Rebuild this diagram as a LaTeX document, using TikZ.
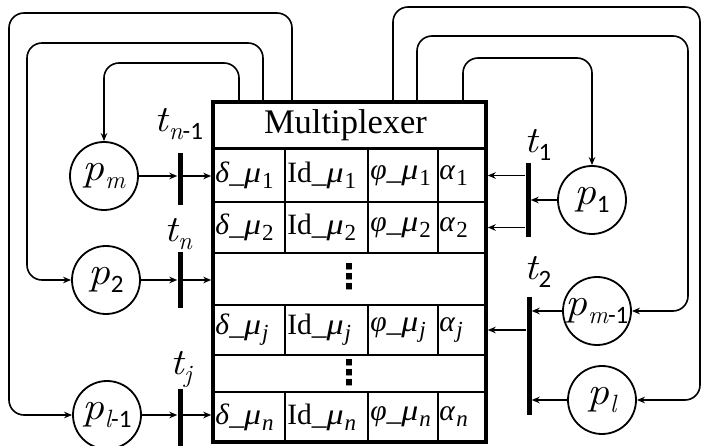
\documentclass[tikz,border=0pt]{standalone}
\usepackage{fontspec}
\setmainfont{Liberation Serif}
\newfontfamily\subfont{Carlito}
\newfontfamily\dotfont{DejaVu Sans}
\usetikzlibrary{arrows.meta}

% Latin Modern italic for the letters of place and transition labels
\newcommand\lmit{\fontfamily{lmr}\fontshape{it}\selectfont}
% label of a place or transition: big letter with a lowered index
\newcommand\netlabel[3]{{\fontsize{#1}{#1}\lmit\scalebox{1.12}[1]{#2}}\kern0.5pt\raisebox{-8pt}{\fontsize{25pt}{25pt}\selectfont #3}}
\newcommand\ix[1]{{\lmit #1}}
\newcommand\dg[1]{{\subfont #1}}
% index inside the table cells
\newcommand\cix[1]{\kern1pt\raisebox{-6pt}{\fontsize{23pt}{23pt}\selectfont #1}}
\newcommand\gr[1]{\textit{#1}}
\newcommand\mucell{\scalebox{1.15}[1]{\textit{μ}}}

\begin{document}
\begin{tikzpicture}[x=1pt,y=-1pt,
  wire/.style={line width=1.6pt},
  arr/.style={wire,-{Stealth[length=8pt,width=6.5pt]}},
  place/.style={circle,draw,line width=1.8pt,minimum size=68pt,inner sep=0pt},
  bar/.style={fill=black,inner sep=0pt,minimum width=5pt},
  cell/.style={draw,line width=1.8pt,inner xsep=3pt,inner ysep=0pt,align=left},
  celltext/.style={font=\fontsize{29.5pt}{29.5pt}\selectfont,anchor=west,inner sep=0pt},
  wide/.style={draw,line width=1.8pt,inner sep=0pt,minimum width=273pt},
  vdots/.style={font=\fontsize{34pt}{34pt}\dotfont\bfseries},
  loop/.style={arr,rounded corners=15pt}
]
\useasboundingbox (0,0) rectangle (702,446);

% ---- table cells ----
\foreach \r/\y/\h in {1/175.5/53,2/227.5/51,j/330/50,n/417/50}{
  \node[cell,minimum height=\h pt,text width=66pt] (d\r) at (249,\y) {};
  \node[cell,minimum height=\h pt,text width=77pt] (i\r) at (326.5,\y) {};
  \node[cell,minimum height=\h pt,text width=64pt] (f\r) at (403,\y) {};
  \node[cell,minimum height=\h pt,text width=42pt] (a\r) at (462,\y) {};
}
% cell texts
\begin{scope}[every node/.style={celltext}]
\node (td1) at ([xshift=3pt]d1.west) {\gr{δ}\_\mucell\cix{1}};
\node (ti1) at ([xshift=3pt]i1.west) {Id\_\mucell\cix{1}};
\node (tf1) at ([xshift=3pt]f1.west) {\gr{φ}\_\mucell\cix{1}};
\node (ta1) at ([xshift=2pt]a1.west) {\gr{α}\cix{1}};
\node (td2) at ([xshift=3pt]d2.west) {\gr{δ}\_\mucell\cix{2}};
\node (ti2) at ([xshift=3pt]i2.west) {Id\_\mucell\cix{2}};
\node (tf2) at ([xshift=3pt]f2.west) {\gr{φ}\_\mucell\cix{2}};
\node (ta2) at ([xshift=2pt]a2.west) {\gr{α}\cix{2}};
\node (tdj) at ([xshift=3pt]dj.west) {\gr{δ}\_\mucell\cix{\textit{j}}};
\node (tij) at ([xshift=3pt]ij.west) {Id\_\mucell\cix{\textit{j}}};
\node (tfj) at ([xshift=3pt]fj.west) {\gr{φ}\_\mucell\cix{\textit{j}}};
\node (taj) at ([xshift=2pt]aj.west) {\gr{α}\cix{\textit{j}}};
\node (tdn) at ([xshift=3pt]dn.west) {\gr{δ}\_\mucell\cix{\textit{n}}};
\node (tin) at ([xshift=3pt]in.west) {Id\_\mucell\cix{\textit{n}}};
\node (tfn) at ([xshift=3pt]fn.west) {\gr{φ}\_\mucell\cix{\textit{n}}};
\node (tan) at ([xshift=2pt]an.west) {\gr{α}\cix{\textit{n}}};
\end{scope}

% rows holding only an ellipsis
\node[wide,minimum height=52pt] (row3) at (349.5,279) {};
\node[vdots] (dots3) at (349.5,277) {⋮};
\node[wide,minimum height=37pt] (row5) at (349.5,373.5) {};
\node[vdots] (dots5) at (349.5,373) {⋮};

% header and outer frame
\node[draw,line width=3pt,minimum width=273pt,minimum height=47pt,
  font=\fontsize{34.5pt}{34.5pt}\selectfont] (mux) at (349.5,125.5) {\kern-8pt Multiplexer};
\node[draw,line width=3.5pt,minimum width=273pt,minimum height=340pt] (box) at (349.5,272) {};

% ---- places ----
\node[place] (pm)  at (104,176) {\netlabel{39pt}{p}{\ix{m}}};
\node[place] (p2)  at (106,280) {\netlabel{39pt}{p}{\dg{2}}};
\node[place] (pl1) at (107,415) {\netlabel{39pt}{p}{\ix{l}\dg{-1}}};
\node[place] (p1)  at (592,200) {\netlabel{39pt}{p}{\dg{1}}};
\node[place] (pm1) at (597,311) {\netlabel{39pt}{p}{\ix{m}\dg{-1}}};
\node[place] (pl)  at (602,400) {\netlabel{39pt}{p}{\ix{l}}};

% ---- transitions ----
\node[bar,minimum height=52pt]  (tn1) at (180,179) {};
\node[bar,minimum height=56pt]  (tn)  at (180,280) {};
\node[bar,minimum height=62pt]  (tj)  at (180,420) {};
\node[bar,minimum height=74pt]  (t1)  at (528,200) {};
\node[bar,minimum height=118pt] (t2)  at (529,356) {};

\node (Ltn1) at (179,124) {\netlabel{37pt}{t}{\ix{n}\dg{-1}}};
\node (Ltn)  at (178,234) {\netlabel{37pt}{t}{\ix{n}}};
\node (Ltj)  at (181,369) {\netlabel{37pt}{t}{\ix{j}}};
\node (Lt1)  at (538,145) {\netlabel{37pt}{t}{\dg{1}}};
\node (Lt2)  at (538,272) {\netlabel{37pt}{t}{\dg{2}}};

% ---- arcs on the left ----
\draw[arr] (pm)  -- (pm -| tn1.west);
\draw[arr] (pm -| tn1.east) -- (pm -| box.west);
\draw[arr] (p2)  -- (p2 -| tn.west);
\draw[arr] (p2 -| tn.east) -- (p2 -| box.west);
\draw[arr] (pl1) -- (pl1 -| tj.west);
\draw[arr] (pl1 -| tj.east) -- (pl1 -| box.west);

% ---- arcs on the right ----
\draw[arr] (a1 -| t1.west) -- (a1 -| box.east);
\draw[arr] (a2 -| t1.west) -- (a2 -| box.east);
\draw[arr] (p1)  -- (p1 -| t1.east);
\draw[arr] (aj -| t2.west) -- (aj -| box.east);
\draw[arr] (pm1) -- (pm1 -| t2.east);
\draw[arr] (pl)  -- (pl -| t2.east);

% ---- feedback loops leaving the top of the multiplexer ----
\coordinate (oA) at (239,102);
\coordinate (oB) at (263,102);
\coordinate (oC) at (292,102);
\coordinate (oD) at (463,102);
\coordinate (oE) at (417,102);
\coordinate (oF) at (393,102);
\draw[loop] (oA) -- ++(0,-39) -| (pm.north);
\draw[loop] (oB) |- (27,43) |- (p2.west);
\draw[loop] (oC) |- (9,13) |- (pl1.west);
\draw[loop] (oD) -- ++(0,-44) -| (p1.north);
\draw[loop] (oE) |- (688,36) |- (pm1.east);
\draw[loop] (oF) |- (700,7) |- (pl.east);
\end{tikzpicture}
\end{document}
